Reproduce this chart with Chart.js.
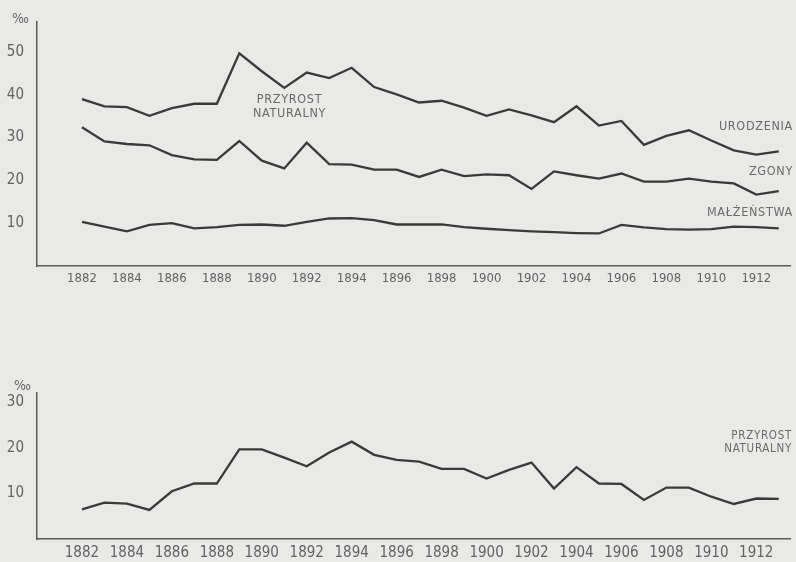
<!DOCTYPE html>
<html lang="pl">
<head>
<meta charset="utf-8">
<title>Urodzenia, zgony, małżeństwa 1882–1913</title>
<script src="https://cdn.jsdelivr.net/npm/chart.js@4.4.0/dist/chart.umd.min.js"></script>
<style>
  html, body { margin: 0; padding: 0; background: #e9e9e7; }
  #wrap { position: relative; width: 796px; height: 562px; overflow: hidden; font-family: "DejaVu Sans Condensed", "DejaVu Sans", sans-serif; color: #6a6a6a; }
  #topCanvasBox { position: absolute; left: 0; top: 0; width: 796px; height: 290px; }
  #bottomCanvasBox { position: absolute; left: 0; top: 290px; width: 796px; height: 272px; }
  .note { position: absolute; font-size: 12.5px; line-height: 14px; letter-spacing: 0.7px; white-space: nowrap; }
  .unit { position: absolute; font-size: 14px; color: #666; }
</style>
</head>
<body>
<div id="wrap">
  <div id="topCanvasBox"><canvas id="topChart"></canvas></div>
  <div id="bottomCanvasBox"><canvas id="bottomChart"></canvas></div>

  <div class="unit" style="left:12px; top:10px;">‰</div>
  <div class="unit" style="left:14px; top:377px;">‰</div>

  <div class="note" style="left:253px; top:92px; text-align:center;">PRZYROST<br>NATURALNY</div>
  <div class="note" style="right:3px; top:119px;">URODZENIA</div>
  <div class="note" style="right:3px; top:164px;">ZGONY</div>
  <div class="note" style="right:3px; top:205px;">MAŁŻEŃSTWA</div>
  <div class="note" style="right:4px; top:429px; line-height:13px; text-align:right; font-size:11.5px;">PRZYROST<br>NATURALNY</div>
</div>

<script>
// years on the x axis
const years = [1882, 1883, 1884, 1885, 1886, 1887, 1888, 1889, 1890, 1891, 1892,
  1893, 1894, 1895, 1896, 1897, 1898, 1899, 1900, 1901, 1902, 1903, 1904, 1905,
  1906, 1907, 1908, 1909, 1910, 1911, 1912, 1913];

// per mille values
const births = [39.0, 37.3, 37.1, 35.1, 36.9, 37.9, 37.9, 49.7, 45.5, 41.6, 45.2,
  43.9, 46.3, 41.8, 40.1, 38.2, 38.6, 37.0, 35.1, 36.6, 35.2, 33.6, 37.3, 32.8,
  33.9, 28.3, 30.4, 31.7, 29.3, 27.0, 26.0, 26.8];
const deaths = [32.4, 29.1, 28.5, 28.2, 25.9, 24.9, 24.8, 29.2, 24.6, 22.8, 28.8,
  23.8, 23.7, 22.5, 22.5, 20.8, 22.5, 21.0, 21.4, 21.2, 18.0, 22.1, 21.2, 20.4,
  21.6, 19.7, 19.7, 20.4, 19.7, 19.3, 16.7, 17.5];
const marriages = [10.3, 9.2, 8.1, 9.6, 10.0, 8.8, 9.1, 9.6, 9.7, 9.4, 10.3,
  11.1, 11.2, 10.7, 9.7, 9.7, 9.7, 9.1, 8.7, 8.4, 8.1, 7.9, 7.7, 7.6,
  9.6, 9.0, 8.6, 8.5, 8.6, 9.2, 9.1, 8.8];
const naturalIncrease = [6.5, 8.0, 7.8, 6.4, 10.5, 12.2, 12.2, 19.7, 19.7, 17.9, 16.0,
  19.0, 21.4, 18.5, 17.4, 17.0, 15.4, 15.4, 13.3, 15.2, 16.8, 11.1, 15.8, 12.2,
  12.1, 8.6, 11.3, 11.3, 9.3, 7.7, 8.9, 8.8];

// tick labels
const yearTicks = [1882, 1884, 1886, 1888, 1890, 1892, 1894, 1896, 1898, 1900,
  1902, 1904, 1906, 1908, 1910, 1912];
const topValueTicks = [10, 20, 30, 40, 50];
const bottomValueTicks = [10, 20, 30];

const lineColor = "#3a3a3a";
const axisColor = "#5a5a5a";
const tickColor = "#626262";
const condensed = "'DejaVu Sans Condensed', sans-serif";

const toPoints = (vals) => years.map((yr, i) => ({ x: yr, y: vals[i] }));

function lineSet(vals) {
  return {
    data: toPoints(vals),
    borderColor: lineColor,
    borderWidth: 2.3,
    pointRadius: 0,
    tension: 0,
    fill: false,
  };
}

function buildOptions(cfg) {
  return {
    responsive: false,
    animation: false,
    events: [],
    layout: { padding: { top: cfg.padTop, right: 6, left: 0, bottom: 0 } },
    plugins: { legend: { display: false }, tooltip: { enabled: false } },
    scales: {
      x: {
        type: "linear",
        min: 1880,
        max: 1913.5,
        afterFit: (s) => { s.height = cfg.xHeight; },
        afterBuildTicks: (s) => { s.ticks = yearTicks.map((v) => ({ value: v })); },
        grid: { display: false, drawTicks: false },
        border: { display: true, color: axisColor, width: 1.5 },
        ticks: {
          color: tickColor,
          padding: cfg.xPad,
          maxRotation: 0,
          autoSkip: false,
          font: { family: condensed, size: cfg.xFont },
          callback: (v) => String(v),
        },
      },
      y: {
        min: 0,
        max: cfg.yMax,
        afterFit: (s) => { s.width = 37; },
        afterBuildTicks: (s) => { s.ticks = cfg.yTicks.map((v) => ({ value: v })); },
        grid: { display: false, drawTicks: false },
        border: { display: true, color: axisColor, width: 1.5 },
        ticks: {
          color: tickColor,
          padding: 13,
          font: { family: condensed, size: 15 },
          callback: (v) => String(v),
        },
      },
    },
  };
}

function makeCanvas(id, w, h) {
  const c = document.getElementById(id);
  c.width = w;
  c.height = h;
  c.style.width = w + "px";
  c.style.height = h + "px";
  return c;
}

new Chart(makeCanvas("topChart", 796, 290), {
  type: "line",
  data: { datasets: [lineSet(births), lineSet(deaths), lineSet(marriages)] },
  options: buildOptions({ padTop: 13, xHeight: 24, xPad: 5, xFont: 13, yMax: 57, yTicks: topValueTicks }),
});

new Chart(makeCanvas("bottomChart", 796, 272), {
  type: "line",
  data: { datasets: [lineSet(naturalIncrease)] },
  options: buildOptions({ padTop: 103, xHeight: 23, xPad: 5, xFont: 15, yMax: 32.1, yTicks: bottomValueTicks }),
});
</script>
</body>
</html>
